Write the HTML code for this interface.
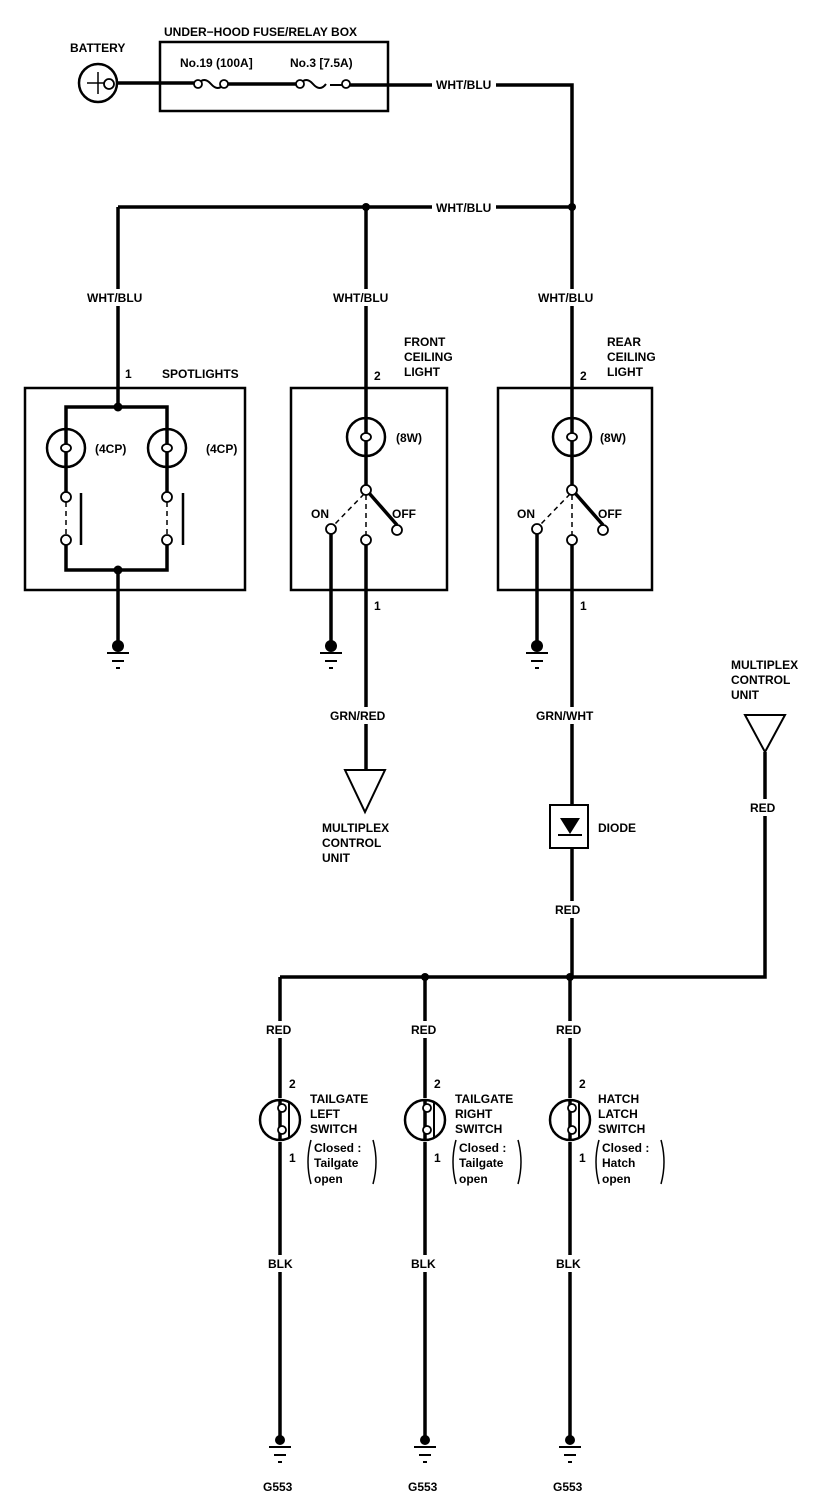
<!DOCTYPE html>
<html><head><meta charset="utf-8"><style>
html,body{margin:0;padding:0;background:#fff;}
svg{display:block;}
text{font-family:"Liberation Sans",sans-serif;font-weight:bold;font-size:12px;fill:#000;}
</style></head><body>
<svg width="832" height="1512" viewBox="0 0 832 1512" xmlns="http://www.w3.org/2000/svg">
<g fill="none" stroke="#000" stroke-width="3.5">
<circle cx="98" cy="83" r="19" stroke-width="2.5"/>
<path d="M87 83h22M98 72v22" stroke-width="1.5"/>
<rect x="160" y="42" width="228" height="69" stroke-width="2.5"/>
<path d="M117 83H198M224 84H300M346 85H572V207M118 207H572M572 207V490"/>
<path d="M198 84q6-8 13 0t13 0M300 84q6-8 13 0t13 0M330 85h15" stroke-width="2"/>
<path d="M118 207V407"/>
<rect x="25" y="388" width="220" height="202" stroke-width="2.5"/>
<path d="M66 429V407H167V429M66 467V492M167 467V492M66 545V570H167V545M118 570V646"/>
<path d="M81 493V545M183 493V545" stroke-width="2.5"/>
<path d="M66 502V535M167 502V535" stroke-width="1.5" stroke-dasharray="5,4"/>
<rect x="291" y="388" width="156" height="202" stroke-width="2.5"/>
<path d="M366 207V485M331 534V646M366 545V770M369 493L397 525"/>
<path d="M364 494L334 525M366 495V535" stroke-width="1.5" stroke-dasharray="5,4"/>
<rect x="498" y="388" width="154" height="202" stroke-width="2.5"/>
<path d="M572 490V485M537 534V646M572 545V805M572 848V977M575 493L603 525"/>
<path d="M570 494L540 525M572 495V535" stroke-width="1.5" stroke-dasharray="5,4"/>
<rect x="550" y="805" width="38" height="43" stroke-width="2"/>
<path d="M345 770H385L365 812Z" stroke-width="2"/>
<path d="M745 715H785L765 752Z" stroke-width="2"/>
<path d="M280 977H765V752M280 977V1098M425 977V1098M570 977V1098M280 1142V1440M425 1142V1440M570 1142V1440"/>
</g>
<g fill="#fff" stroke="#000" stroke-width="2.5">
<circle cx="66" cy="448" r="19"/><circle cx="167" cy="448" r="19"/>
<circle cx="366" cy="437" r="19"/><circle cx="572" cy="437" r="19"/>
<circle cx="280" cy="1120" r="20"/><circle cx="425" cy="1120" r="20"/><circle cx="570" cy="1120" r="20"/>
</g>
<g fill="none" stroke="#000" stroke-width="3.5">
<path d="M66 429V467M167 429V467M366 418V456M572 418V456M280 1100V1140M425 1100V1140M570 1100V1140"/>
</g>
<g fill="#fff" stroke="#000" stroke-width="1.8">
<ellipse cx="66" cy="448" rx="5" ry="4"/><ellipse cx="167" cy="448" rx="5" ry="4"/>
<ellipse cx="366" cy="437" rx="5" ry="4"/><ellipse cx="572" cy="437" rx="5" ry="4"/>
<circle cx="66" cy="497" r="5"/><circle cx="66" cy="540" r="5"/>
<circle cx="167" cy="497" r="5"/><circle cx="167" cy="540" r="5"/>
<circle cx="366" cy="490" r="5"/><circle cx="331" cy="529" r="5"/><circle cx="366" cy="540" r="5"/><circle cx="397" cy="530" r="5"/>
<circle cx="572" cy="490" r="5"/><circle cx="537" cy="529" r="5"/><circle cx="572" cy="540" r="5"/><circle cx="603" cy="530" r="5"/>
<circle cx="282" cy="1108" r="4"/><circle cx="282" cy="1130" r="4"/>
<circle cx="427" cy="1108" r="4"/><circle cx="427" cy="1130" r="4"/>
<circle cx="572" cy="1108" r="4"/><circle cx="572" cy="1130" r="4"/>
<circle cx="109" cy="84" r="5"/><circle cx="198" cy="84" r="4"/><circle cx="224" cy="84" r="4"/><circle cx="300" cy="84" r="4"/><circle cx="346" cy="84" r="4"/>
</g>
<path d="M289 1103V1137M434 1103V1137M579 1103V1137" stroke="#000" stroke-width="2"/>
<path d="M560 818H580L570 834Z" fill="#000"/>
<path d="M558 835H582" stroke="#000" stroke-width="2"/>
<g fill="#000">
<circle cx="366" cy="207" r="4"/><circle cx="572" cy="207" r="4"/>
<circle cx="118" cy="407" r="4.5"/><circle cx="118" cy="570" r="4.5"/>
<circle cx="425" cy="977" r="4"/><circle cx="570" cy="977" r="4"/>
<circle cx="118" cy="646" r="6"/><circle cx="331" cy="646" r="6"/><circle cx="537" cy="646" r="6"/>
<circle cx="280" cy="1440" r="5"/><circle cx="425" cy="1440" r="5"/><circle cx="570" cy="1440" r="5"/>
</g>
<g stroke="#000" stroke-width="2">
<path d="M107 653H129M112 661H124M116 668H120"/>
<path d="M320 653H342M325 661H337M329 668H333"/>
<path d="M526 653H548M531 661H543M535 668H539"/>
<path d="M269 1447H291M274 1455H286M278 1462H282"/>
<path d="M414 1447H436M419 1455H431M423 1462H427"/>
<path d="M559 1447H581M564 1455H576M568 1462H572"/>
</g>
<g fill="none" stroke="#000" stroke-width="1.5">
<path d="M311 1140q-6 22 0 44M373 1140q6 22 0 44M456 1140q-6 22 0 44M518 1140q6 22 0 44M599 1140q-6 22 0 44M661 1140q6 22 0 44"/>
</g>
<!-- label backgrounds breaking wires -->
<g fill="#fff">
<rect x="432" y="76" width="64" height="17"/>
<rect x="432" y="199" width="64" height="17"/>
<rect x="84" y="289" width="62" height="17"/>
<rect x="330" y="289" width="62" height="17"/>
<rect x="535" y="289" width="62" height="17"/>
<rect x="327" y="707" width="62" height="17"/>
<rect x="533" y="707" width="64" height="17"/>
<rect x="747" y="799" width="32" height="17"/>
<rect x="552" y="901" width="32" height="17"/>
<rect x="263" y="1021" width="32" height="17"/><rect x="408" y="1021" width="32" height="17"/><rect x="553" y="1021" width="32" height="17"/>
<rect x="265" y="1255" width="32" height="17"/><rect x="408" y="1255" width="32" height="17"/><rect x="553" y="1255" width="32" height="17"/>
</g>
<text x="164" y="36">UNDER−HOOD FUSE/RELAY BOX</text>
<text x="70" y="52">BATTERY</text>
<text x="180" y="67">No.19 (100A]</text>
<text x="290" y="67">No.3 [7.5A)</text>
<text x="436" y="89">WHT/BLU</text>
<text x="436" y="212">WHT/BLU</text>
<text x="87" y="302">WHT/BLU</text>
<text x="333" y="302">WHT/BLU</text>
<text x="538" y="302">WHT/BLU</text>
<text x="125" y="378">1</text>
<text x="162" y="378">SPOTLIGHTS</text>
<text x="374" y="380">2</text>
<text x="404" y="346">FRONT</text><text x="404" y="361">CEILING</text><text x="404" y="376">LIGHT</text>
<text x="580" y="380">2</text>
<text x="607" y="346">REAR</text><text x="607" y="361">CEILING</text><text x="607" y="376">LIGHT</text>
<text x="95" y="453">(4CP)</text><text x="206" y="453">(4CP)</text>
<text x="396" y="442">(8W)</text><text x="600" y="442">(8W)</text>
<text x="311" y="518">ON</text><text x="392" y="518">OFF</text>
<text x="517" y="518">ON</text><text x="598" y="518">OFF</text>
<text x="374" y="610">1</text><text x="580" y="610">1</text>
<text x="330" y="720">GRN/RED</text>
<text x="536" y="720">GRN/WHT</text>
<text x="322" y="832">MULTIPLEX</text><text x="322" y="847">CONTROL</text><text x="322" y="862">UNIT</text>
<text x="731" y="669">MULTIPLEX</text><text x="731" y="684">CONTROL</text><text x="731" y="699">UNIT</text>
<text x="598" y="832">DIODE</text>
<text x="750" y="812">RED</text>
<text x="555" y="914">RED</text>
<text x="266" y="1034">RED</text><text x="411" y="1034">RED</text><text x="556" y="1034">RED</text>
<text x="289" y="1088">2</text><text x="434" y="1088">2</text><text x="579" y="1088">2</text>
<text x="289" y="1162">1</text><text x="434" y="1162">1</text><text x="579" y="1162">1</text>
<text x="310" y="1103">TAILGATE</text><text x="310" y="1118">LEFT</text><text x="310" y="1133">SWITCH</text>
<text x="455" y="1103">TAILGATE</text><text x="455" y="1118">RIGHT</text><text x="455" y="1133">SWITCH</text>
<text x="598" y="1103">HATCH</text><text x="598" y="1118">LATCH</text><text x="598" y="1133">SWITCH</text>
<g style="font-size:11px">
<text x="314" y="1152">Closed :</text><text x="314" y="1167">Tailgate</text><text x="314" y="1183">open</text>
<text x="459" y="1152">Closed :</text><text x="459" y="1167">Tailgate</text><text x="459" y="1183">open</text>
<text x="602" y="1152">Closed :</text><text x="602" y="1167">Hatch</text><text x="602" y="1183">open</text>
</g>
<text x="268" y="1268">BLK</text><text x="411" y="1268">BLK</text><text x="556" y="1268">BLK</text>
<text x="263" y="1491">G553</text><text x="408" y="1491">G553</text><text x="553" y="1491">G553</text>
</svg>
</body></html>
